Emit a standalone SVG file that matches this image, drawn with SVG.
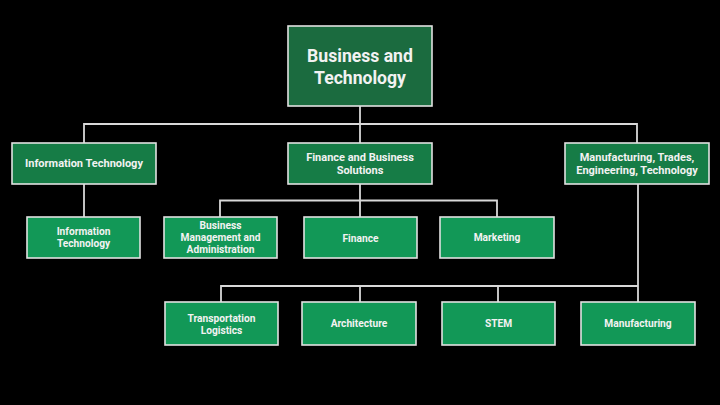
<svg xmlns="http://www.w3.org/2000/svg" width="720" height="405" viewBox="0 0 720 405">
<style>
.bg{fill:#000}
.box{stroke:#e2e2e2;stroke-width:1.6}
.l1{fill:#1b6b3f}
.l2{fill:#167c46}
.l3{fill:#129857}
text{font-family:Roboto,"Liberation Sans",sans-serif;font-weight:bold;fill:#f2f2f2;text-anchor:middle;dominant-baseline:central}
.t1{font-size:17.6px}
.t2{font-size:11px}
.t3{font-size:10.2px}
.conn{fill:none;stroke:#d8d8d8;stroke-width:1.8}
</style>
<rect class="bg" x="0" y="0" width="720" height="405"/>
<g id="connectors" class="conn">
<path d="M360 106V124M84 143V124H637V143M360 124V143"/>
<path d="M84 184V217"/>
<path d="M360 184V217M220 217V200.5H497V217"/>
<path d="M638 184V302M221 302V286H638M360 286V302M498 286V302"/>
</g>
<g id="n-business-technology">
<rect class="box l1" x="288" y="26" width="144" height="80"/>
<text class="t1" x="360" y="56">Business and</text>
<text class="t1" x="360" y="78">Technology</text>
</g>
<g id="n-information-technology">
<rect class="box l2" x="12" y="143" width="144" height="41"/>
<text class="t2" x="84" y="163.5">Information Technology</text>
</g>
<g id="n-finance-business">
<rect class="box l2" x="288" y="143" width="144" height="41"/>
<text class="t2" x="360" y="157">Finance and Business</text>
<text class="t2" x="360" y="170">Solutions</text>
</g>
<g id="n-manufacturing-trades">
<rect class="box l2" x="565" y="143" width="144" height="41"/>
<text class="t2" x="637" y="157">Manufacturing, Trades,</text>
<text class="t2" x="637" y="170">Engineering, Technology</text>
</g>
<g id="n-it-child">
<rect class="box l3" x="27" y="217" width="113" height="41"/>
<text class="t3" x="83.5" y="231.5">Information</text>
<text class="t3" x="83.5" y="243.5">Technology</text>
</g>
<g id="n-business-management">
<rect class="box l3" x="164" y="217" width="113" height="41"/>
<text class="t3" x="220.5" y="225.5">Business</text>
<text class="t3" x="220.5" y="237.5">Management and</text>
<text class="t3" x="220.5" y="249">Administration</text>
</g>
<g id="n-finance">
<rect class="box l3" x="304" y="217" width="113" height="41"/>
<text class="t3" x="360.5" y="238">Finance</text>
</g>
<g id="n-marketing">
<rect class="box l3" x="440" y="217" width="114" height="41"/>
<text class="t3" x="497" y="237.5">Marketing</text>
</g>
<g id="n-transportation">
<rect class="box l3" x="165" y="302" width="113" height="43"/>
<text class="t3" x="221.5" y="318">Transportation</text>
<text class="t3" x="221.5" y="330">Logistics</text>
</g>
<g id="n-architecture">
<rect class="box l3" x="302" y="302" width="114" height="43"/>
<text class="t3" x="359" y="323.5">Architecture</text>
</g>
<g id="n-stem">
<rect class="box l3" x="442" y="302" width="113" height="43"/>
<text class="t3" x="498.5" y="323.5">STEM</text>
</g>
<g id="n-manufacturing">
<rect class="box l3" x="581" y="302" width="114" height="43"/>
<text class="t3" x="638" y="323.5">Manufacturing</text>
</g>
</svg>
